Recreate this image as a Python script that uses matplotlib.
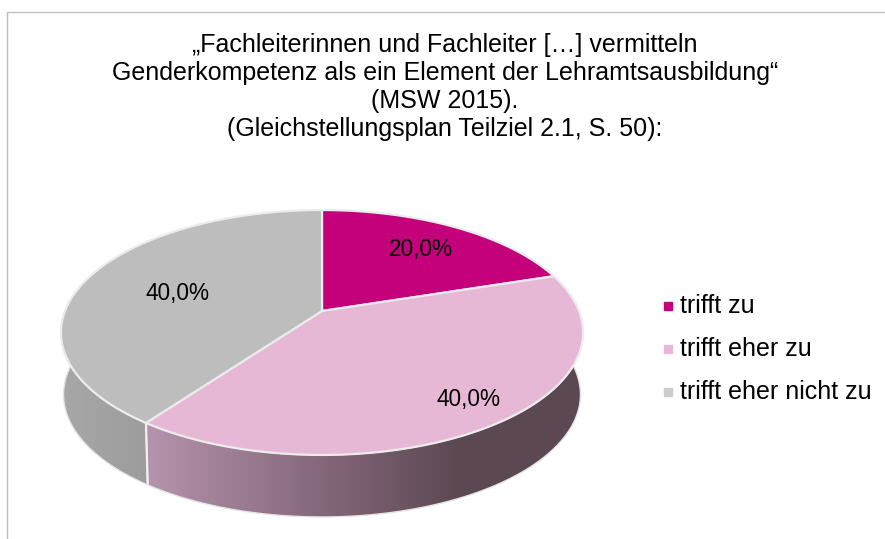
import matplotlib
matplotlib.use("Agg")
import matplotlib.pyplot as plt
import numpy as np
from matplotlib.colors import LinearSegmentedColormap
from matplotlib.patches import Polygon

plt.rcParams["font.family"] = ["Liberation Sans", "DejaVu Sans"]

TITLE = (
    "„Fachleiterinnen und Fachleiter […] vermitteln\n"
    "Genderkompetenz als ein Element der Lehramtsausbildung“\n"
    "(MSW 2015).\n"
    "(Gleichstellungsplan Teilziel 2.1, S. 50):"
)
categories = ["trifft zu", "trifft eher zu", "trifft eher nicht zu"]
values = [20.0, 40.0, 40.0]
colors = ["#c4007a", "#e7b8d5", "#bdbdbd"]
legend_colors = ["#c4007a", "#e7b8d5", "#cccccc"]
label_radius = [0.72, 0.85, 0.61]
label_dy = [1, -4, 4]

# projected circle of the pie top, in image pixels
CX, R = 322.0, 257.0
APEX_Y, A, C = 311.0, -64.1, 0.1755
DEPTH = 62.0


def project(theta, r=1.0, drop=0.0, shrink=1.0):
    u = r * np.sin(theta)
    v = r * np.cos(theta)
    den = 1 + C * v
    return CX + shrink * R * u / den, (A * v + APEX_Y) / den + drop


def arc(start, stop, **kw):
    t = np.linspace(start, stop, 200)
    x, y = project(t, **kw)
    return np.column_stack([x, y])


def side_patch(ax, start, stop, cmap, x0, x1):
    top = arc(start, stop)
    bottom = arc(start, stop, drop=DEPTH, shrink=0.99)[::-1]
    poly = Polygon(np.vstack([top, bottom]), closed=True, fc="none", ec="#e4e4e4", lw=1.0, zorder=2)
    ax.add_patch(poly)
    img = ax.imshow(
        np.linspace(0, 1, 256).reshape(1, -1),
        extent=(x0, x1, 539, 0),
        cmap=cmap,
        aspect="auto",
        zorder=1.5,
    )
    img.set_clip_path(poly)


fig = plt.figure(figsize=(8.85, 5.39), dpi=100)
ax = fig.add_axes([0, 0, 1, 1])

edges = np.deg2rad(np.cumsum([0] + values) / sum(values) * 360)

pink_side = LinearSegmentedColormap.from_list(
    "pink_side", [(0, "#b593ac"), (0.45, "#7f6274"), (0.72, "#5b4853"), (1, "#5b4853")]
)
grey_side = LinearSegmentedColormap.from_list("grey_side", ["#a8a8a8", "#9c9c9c"])
side_patch(ax, np.deg2rad(84), edges[2], pink_side, 147, 583)
side_patch(ax, edges[2], np.deg2rad(276), grey_side, 60, 150)

# white seam between the two side pieces
sx, sy = project(edges[2])
bx, by = project(edges[2], drop=DEPTH, shrink=0.99)
ax.plot([sx, bx], [sy, by], color="#f0f0f0", lw=1.6, zorder=2.5)

for i, color in enumerate(colors):
    outer = arc(edges[i], edges[i + 1])
    ax_pt = np.array(project(0.0, r=0.0))
    ax.add_patch(Polygon(np.vstack([ax_pt, outer]), closed=True, fc=color, ec="#ececec", lw=1.6, zorder=3))

for i, val in enumerate(values):
    mid = (edges[i] + edges[i + 1]) / 2
    x, y = project(mid, r=label_radius[i])
    ax.text(x, y + label_dy[i], f"{val:.1f}%".replace(".", ","), ha="center", va="center", fontsize=16.3, color="black", zorder=4)

ax.text(445, 87, TITLE, ha="center", va="center", fontsize=18, linespacing=1.22, color="black")

legend_y = [306, 349, 392]
for name, color, y in zip(categories, legend_colors, legend_y):
    ax.plot([668], [y], marker="s", ms=5.2, mfc=color, mec=color, ls="none")
    ax.text(680, y, name, ha="left", va="center", fontsize=18, color="black")

# chart frame, cut off at the right and bottom of the picture
ax.plot([7, 7, 885], [539, 12, 12], color="#bfbfbf", lw=1.0)

ax.set_xlim(0, 885)
ax.set_ylim(539, 0)
ax.axis("off")
fig.savefig("out.png", dpi=100)
